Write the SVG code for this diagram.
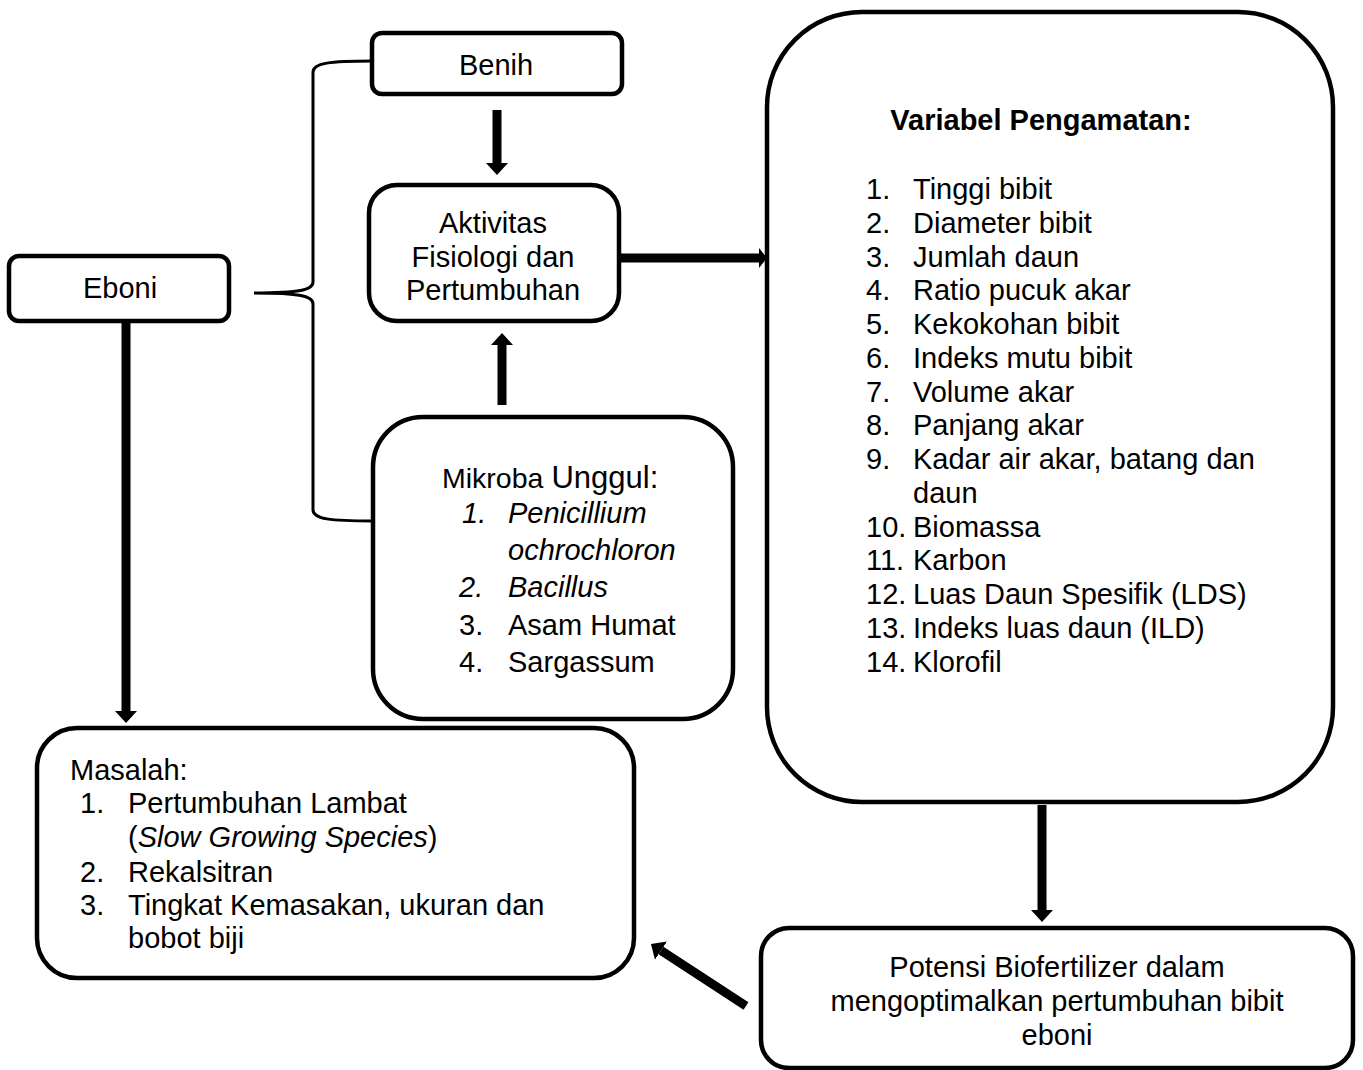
<svg xmlns="http://www.w3.org/2000/svg" width="1363" height="1070" viewBox="0 0 1363 1070">
<defs>
<style>
.box{fill:#fff;stroke:#000;stroke-width:4.5}
.t{font-family:"Liberation Sans",Arial,sans-serif;font-size:29px;fill:#000}
.c{text-anchor:middle}
.i{font-style:italic}
.conn{stroke:#000;stroke-width:9;fill:none}
.brace{stroke:#000;stroke-width:3;fill:none}
</style>
<marker id="ah" markerUnits="userSpaceOnUse" markerWidth="12" markerHeight="22" refX="0" refY="11" orient="auto" viewBox="0 0 12 22">
<path d="M0,0 L12,11 L0,22 z" fill="#000"/>
</marker>
<marker id="ahs" markerUnits="userSpaceOnUse" markerWidth="8" markerHeight="20" refX="0" refY="10" orient="auto" viewBox="0 0 8 20">
<path d="M0,0 L8,10 L0,20 z" fill="#000"/>
</marker>
</defs>
<rect width="1363" height="1070" fill="#fff"/>

<g id="connectors">
<line class="conn" x1="497" y1="110" x2="497" y2="163" marker-end="url(#ah)"/>
<line class="conn" x1="502" y1="405" x2="502" y2="345" marker-end="url(#ah)"/>
<line class="conn" x1="621" y1="258" x2="759" y2="258" marker-end="url(#ahs)"/>
<line class="conn" x1="126" y1="321" x2="126" y2="711" marker-end="url(#ah)"/>
<line class="conn" x1="1042" y1="805" x2="1042" y2="910" marker-end="url(#ah)"/>
<line class="conn" x1="746" y1="1006" x2="661" y2="950.6" marker-end="url(#ah)"/>
<path class="brace" d="M372,61 C330,61 313,63 313,72 L313,282 C313,290 300,293 254,293 C300,293 313,296 313,304 L313,510 C313,519 330,521 373,521"/>
</g>

<g id="benih">
<rect class="box" x="372" y="33" width="250" height="61" rx="10"/>
<text class="t c" x="496" y="75">Benih</text>
</g>

<g id="eboni">
<rect class="box" x="9" y="256" width="220" height="65" rx="10"/>
<text class="t c" x="120" y="298">Eboni</text>
</g>

<g id="aktivitas">
<rect class="box" x="369" y="185" width="250" height="136" rx="28"/>
<text class="t c" x="493" y="233">Aktivitas</text>
<text class="t c" x="493" y="267">Fisiologi dan</text>
<text class="t c" x="493" y="300">Pertumbuhan</text>
</g>

<g id="mikroba">
<rect class="box" x="373" y="417" width="360" height="302" rx="50"/>
<text class="t" x="442" y="488"><tspan font-size="28.5">Mikroba</tspan> <tspan font-size="31">Unggul:</tspan></text>
<g class="t" font-size="33">
<text class="i" x="462" y="523">1.</text><text class="i" x="508" y="523">Penicillium</text>
<text class="i" x="508" y="560">ochrochloron</text>
<text class="i" x="459" y="597">2.</text><text class="i" x="508" y="597">Bacillus</text>
<text x="459" y="635">3.</text><text x="508" y="635">Asam Humat</text>
<text x="459" y="672">4.</text><text x="508" y="672">Sargassum</text>
</g>
</g>

<g id="variabel">
<rect class="box" x="767" y="12" width="566" height="790" rx="95"/>
<text class="t c" x="1041" y="130" font-weight="bold" font-size="27">Variabel Pengamatan:</text>
<g class="t">
<text x="866" y="199">1.</text><text x="913" y="199">Tinggi bibit</text>
<text x="866" y="233">2.</text><text x="913" y="233">Diameter bibit</text>
<text x="866" y="267">3.</text><text x="913" y="267">Jumlah daun</text>
<text x="866" y="300">4.</text><text x="913" y="300">Ratio pucuk akar</text>
<text x="866" y="334">5.</text><text x="913" y="334">Kekokohan bibit</text>
<text x="866" y="368">6.</text><text x="913" y="368">Indeks mutu bibit</text>
<text x="866" y="402">7.</text><text x="913" y="402">Volume akar</text>
<text x="866" y="435">8.</text><text x="913" y="435">Panjang akar</text>
<text x="866" y="469">9.</text><text x="913" y="469">Kadar air akar, batang dan</text>
<text x="913" y="503">daun</text>
<text x="866" y="537">10.</text><text x="913" y="537">Biomassa</text>
<text x="866" y="570">11.</text><text x="913" y="570">Karbon</text>
<text x="866" y="604">12.</text><text x="913" y="604">Luas Daun Spesifik (LDS)</text>
<text x="866" y="638">13.</text><text x="913" y="638">Indeks luas daun (ILD)</text>
<text x="866" y="672">14.</text><text x="913" y="672">Klorofil</text>
</g>
</g>

<g id="masalah">
<rect class="box" x="37" y="728" width="597" height="250" rx="40"/>
<g class="t">
<text x="70" y="780">Masalah:</text>
<text x="80" y="813">1.</text><text x="128" y="813">Pertumbuhan Lambat</text>
<text x="128" y="847">(<tspan class="i">Slow Growing Species</tspan>)</text>
<text x="80" y="882">2.</text><text x="128" y="882">Rekalsitran</text>
<text x="80" y="915">3.</text><text x="128" y="915">Tingkat Kemasakan, ukuran dan</text>
<text x="128" y="948">bobot biji</text>
</g>
</g>

<g id="potensi">
<rect class="box" x="761" y="928" width="592" height="140" rx="28"/>
<text class="t c" x="1057" y="977">Potensi Biofertilizer dalam</text>
<text class="t c" x="1057" y="1011">mengoptimalkan pertumbuhan bibit</text>
<text class="t c" x="1057" y="1045">eboni</text>
</g>
</svg>
